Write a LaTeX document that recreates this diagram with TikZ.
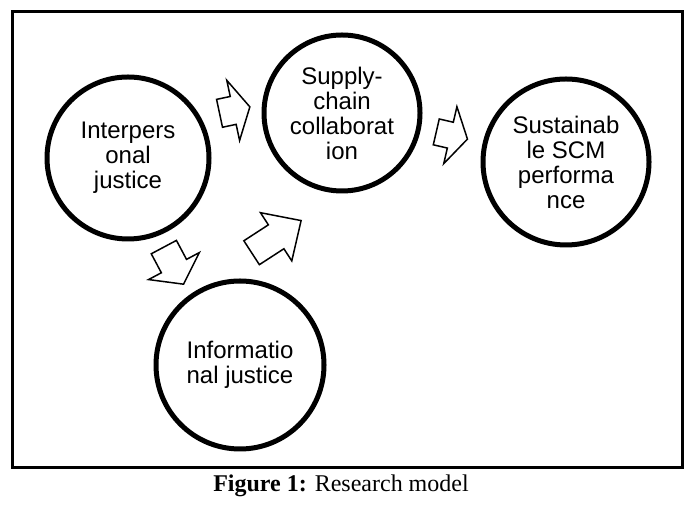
\documentclass[tikz,border=0pt]{standalone}
\usepackage{fontspec}
\setmainfont{Liberation Serif}
\setsansfont{Liberation Sans}
\usetikzlibrary{shapes.arrows}

\tikzset{
  construct/.style={circle, draw, line width=5pt, align=center, inner sep=0pt,
    font=\sffamily\fontsize{24}{25}\selectfont},
  blockarrow/.style={single arrow, draw, fill=white, line width=1.5pt,
    inner xsep=0pt, anchor=tip}
}

\begin{document}
\begin{tikzpicture}[x=1pt,y=1pt]
  \useasboundingbox (0,0) rectangle (692,510);
  \draw[line width=3pt] (12,42) rectangle (682,498);

  % constructs
  \node[construct, minimum size=162pt] (ip) at (128,352) {Interpers\\onal\\justice};
  \node[construct, minimum size=156pt] (sc) at (342,397) {Supply-\\chain\\collaborat\\ion};
  \node[construct, minimum size=166pt] (ss) at (566,348) {Sustainab\\le SCM\\performa\\nce};
  \node[construct, minimum size=168pt] (ij) at (240,145) {Informatio\\nal justice};

  % block arrows
  \node[blockarrow, rotate=12, minimum height=31pt, inner ysep=13.5pt,
    single arrow head extend=16.5pt, single arrow tip angle=122] (ip-sc) at (250.7,403.3) {};
  \node[blockarrow, rotate=-62, minimum height=42pt, inner ysep=13.5pt,
    single arrow head extend=14.5pt, single arrow tip angle=109] (ip-ij) at (184,225) {};
  \node[blockarrow, rotate=-13, minimum height=32pt, inner ysep=12.5pt,
    single arrow head extend=16pt, single arrow tip angle=118] (sc-ss) at (468.3,370.7) {};
  \node[blockarrow, rotate=33, minimum height=59pt, inner ysep=13.5pt,
    single arrow head extend=14.5pt, single arrow tip angle=88] (ij-sc) at (302,290) {};

  \node[anchor=base, font=\fontsize{24}{28}\selectfont] (caption) at (341,18)
    {\textbf{Figure 1:} Research model};
\end{tikzpicture}
\end{document}
